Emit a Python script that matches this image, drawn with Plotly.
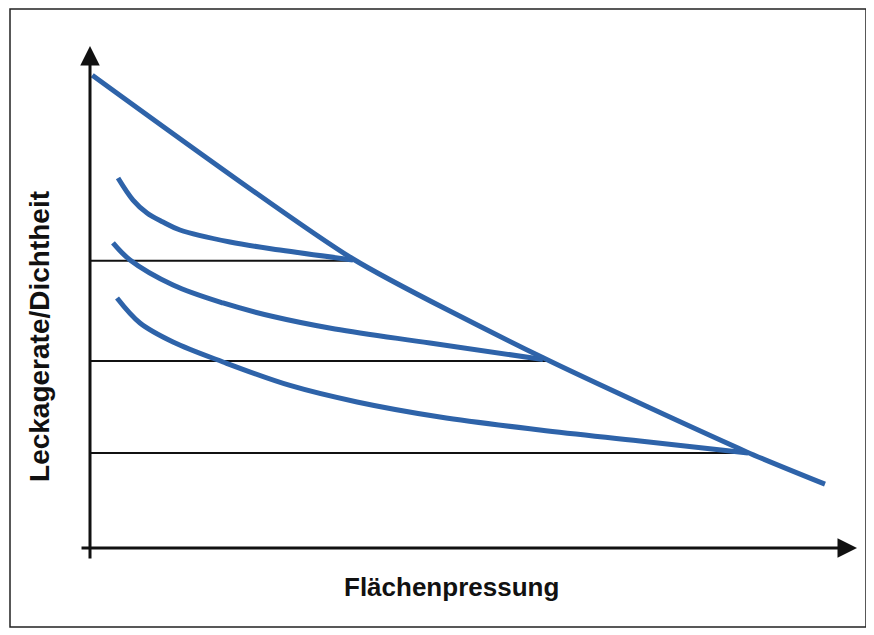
import plotly.graph_objects as go

# ---- data (arbitrary units: x = surface pressure, y = leakage rate) ----
main_x = [0.3, 34.2, 59.0, 85.5, 95.7]
main_y = [94.0, 57.5, 37.8, 19.1, 12.7]

curve1_x = [3.65, 5.6, 7.42, 9.5, 11.72, 18.23, 24.74, 34.24]
curve1_y = [73.56, 69.18, 66.6, 64.81, 63.22, 60.83, 59.24, 57.26]

curve2_x = [2.99, 5.21, 10.81, 17.32, 23.83, 31.9, 44.27, 58.98]
curve2_y = [60.64, 57.26, 52.29, 48.71, 46.02, 43.54, 40.76, 37.48]

curve3_x = [3.52, 6.51, 10.81, 17.32, 26.04, 34.77, 45.57, 58.59, 71.61, 85.68]
curve3_y = [49.70, 44.73, 40.95, 36.98, 32.31, 29.03, 26.04, 23.46, 21.27, 18.89]

level_y = [57.1, 37.2, 18.9]
level_end_x = [34.5, 59.6, 86.2]

x_title = "Flächenpressung"
y_title = "Leckagerate/Dichtheit"

BLUE = "#2E63A9"

fig = go.Figure()

# horizontal reference lines
for ly, ex in zip(level_y, level_end_x):
    fig.add_trace(go.Scatter(x=[0, ex], y=[ly, ly], mode="lines",
                             line=dict(color="#111111", width=2),
                             hoverinfo="skip", showlegend=False))

for cx, cy in [(curve1_x, curve1_y), (curve2_x, curve2_y), (curve3_x, curve3_y)]:
    fig.add_trace(go.Scatter(x=cx, y=cy, mode="lines",
                             line=dict(color=BLUE, width=5, shape="spline", smoothing=1.0),
                             showlegend=False))

fig.add_trace(go.Scatter(x=main_x, y=main_y, mode="lines",
                         line=dict(color=BLUE, width=5, shape="spline", smoothing=0.6),
                         showlegend=False))

# axes with arrows
fig.add_annotation(x=99.87, y=0, ax=-1.3, ay=0, xref="x", yref="y", axref="x", ayref="y",
                   text="", showarrow=True, arrowhead=2, arrowsize=1.3, arrowwidth=3,
                   arrowcolor="#111111")
fig.add_annotation(x=0, y=99.8, ax=0, ay=-2.4, xref="x", yref="y", axref="x", ayref="y",
                   text="", showarrow=True, arrowhead=2, arrowsize=1.3, arrowwidth=3,
                   arrowcolor="#111111")

# axis titles
fig.add_annotation(x=0.476, y=-0.048, xref="paper", yref="paper", text=x_title,
                   showarrow=False, xanchor="center", yanchor="middle",
                   font=dict(family="Liberation Sans, Arial", size=26, color="#111111", weight="bold"))
fig.add_annotation(x=-0.0485, y=0.433, xref="paper", yref="paper", text=y_title,
                   showarrow=False, xanchor="center", yanchor="middle", textangle=-90,
                   font=dict(family="Liberation Sans, Arial", size=28, color="#111111", weight="bold"))

# outer frame
fig.add_shape(type="rect", xref="paper", yref="paper",
              x0=(2 - 70) / 784, x1=(858 - 70) / 784,
              y0=(554 - 619) / 522, y1=(554 - 1) / 522,
              line=dict(color="#222222", width=1.5), fillcolor="rgba(0,0,0,0)", layer="below")

fig.update_xaxes(range=[-1.5625, 100.52], visible=False, showgrid=False, zeroline=False)
fig.update_yaxes(range=[-2.783, 100.99], visible=False, showgrid=False, zeroline=False)

fig.update_layout(width=866, height=627, margin=dict(l=70, r=12, t=32, b=73),
                  paper_bgcolor="white", plot_bgcolor="white", showlegend=False)

fig.write_html("out.html")
